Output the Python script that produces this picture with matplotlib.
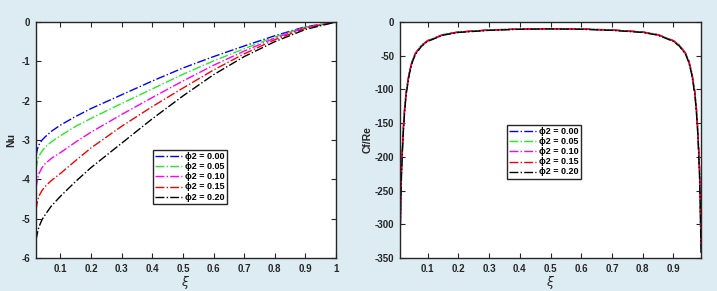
import matplotlib
matplotlib.use("Agg")
import matplotlib.pyplot as plt

# ---- left panel: Nu vs xi ----
xi_nu = [0.02, 0.025, 0.03, 0.04, 0.05, 0.07, 0.1, 0.15, 0.2, 0.3, 0.4, 0.5, 0.6, 0.7, 0.8, 0.9, 1.0]
nu_000 = [-3.40, -3.22, -3.12, -3.00, -2.92, -2.78, -2.62, -2.40, -2.20, -1.85, -1.50, -1.17, -0.88, -0.61, -0.35, -0.12, 0.0]
nu_005 = [-3.75, -3.52, -3.40, -3.28, -3.18, -3.05, -2.89, -2.65, -2.45, -2.07, -1.70, -1.33, -0.99, -0.68, -0.38, -0.13, 0.0]
nu_010 = [-4.23, -3.98, -3.85, -3.70, -3.60, -3.47, -3.32, -3.05, -2.80, -2.35, -1.92, -1.50, -1.10, -0.74, -0.41, -0.14, 0.0]
nu_015 = [-4.78, -4.55, -4.42, -4.28, -4.18, -4.03, -3.85, -3.52, -3.20, -2.65, -2.15, -1.68, -1.22, -0.81, -0.45, -0.16, 0.0]
nu_020 = [-5.54, -5.35, -5.20, -5.02, -4.90, -4.68, -4.43, -4.05, -3.70, -3.08, -2.46, -1.88, -1.34, -0.88, -0.50, -0.19, 0.0]

# ---- right panel: Cf/Re vs xi ----
xi_cf = [0.01, 0.0125, 0.015, 0.02, 0.025, 0.03, 0.04, 0.05, 0.06, 0.08, 0.1, 0.15, 0.2, 0.3, 0.4, 0.5,
         0.6, 0.7, 0.8, 0.85, 0.9, 0.92, 0.94, 0.95, 0.96, 0.97, 0.975, 0.98, 0.985, 0.9875, 0.99]
cf_000 = [-335, -262, -218, -165, -130, -105, -76, -58, -47, -35, -28, -19, -15, -12, -10.5, -10,
          -10.5, -12, -15, -19, -28, -35, -47, -58, -76, -105, -130, -165, -218, -262, -335]
cf_005 = [-328, -257, -214, -162, -127, -103, -74.5, -57, -46, -34.3, -27.4, -18.6, -14.7, -11.8, -10.3, -9.8,
          -10.3, -11.8, -14.7, -18.6, -27.4, -34.3, -46, -57, -74.5, -103, -127, -162, -214, -257, -328]
cf_010 = [-332, -259, -216, -163, -129, -104, -75.2, -57.4, -46.5, -34.7, -27.7, -18.8, -14.9, -11.9, -10.4, -9.9,
          -10.4, -11.9, -14.9, -18.8, -27.7, -34.7, -46.5, -57.4, -75.2, -104, -129, -163, -216, -259, -332]
cf_015 = [-333, -261, -217, -164, -129, -104, -75.6, -57.7, -46.8, -34.8, -27.9, -18.9, -14.9, -11.9, -10.4, -10,
          -10.4, -11.9, -14.9, -18.9, -27.9, -34.8, -46.8, -57.7, -75.6, -104, -129, -164, -217, -261, -333]
cf_020 = [-345, -270, -225, -170, -134, -108, -78.3, -59.7, -48.4, -36, -28.8, -19.6, -15.5, -12.4, -10.8, -10.3,
          -10.8, -12.4, -15.5, -19.6, -28.8, -36, -48.4, -59.7, -78.3, -108, -134, -170, -225, -270, -345]

phi_labels = ["0.00", "0.05", "0.10", "0.15", "0.20"]
colors = ["#0000ff", "#22ee22", "#ff00ff", "#ff0000", "#000000"]

plt.rcParams['font.family'] = ['Liberation Sans', 'DejaVu Sans']
plt.rcParams['axes.unicode_minus'] = False
edge = "#262626"

fig = plt.figure(figsize=(7.17, 2.91), dpi=100)
fig.patch.set_facecolor("#dcecf2")

ax1 = fig.add_axes([36/717, 33/291, 300/717, 236/291])
ax2 = fig.add_axes([400/717, 33/291, 301/717, 236/291])


def style(ax):
    for s in ax.spines.values():
        s.set_color(edge)
        s.set_linewidth(1.0)
    ax.tick_params(direction="in", top=True, right=True, length=3.5, width=0.8,
                   color=edge, labelcolor=edge, labelsize=7, pad=4)
    for lab in ax.get_xticklabels() + ax.get_yticklabels():
        lab.set_fontweight("bold")


for ys, c, lab in zip([nu_000, nu_005, nu_010, nu_015, nu_020], colors, phi_labels):
    ax1.plot(xi_nu, ys, linestyle="-.", color=c, lw=1.0, label="\u03d52 = " + lab)
ax1.set_xlim(0.02, 1)
ax1.set_ylim(-6, 0)
ax1.set_xticks([0.1, 0.2, 0.3, 0.4, 0.5, 0.6, 0.7, 0.8, 0.9, 1.0])
ax1.set_xticklabels(["0.1", "0.2", "0.3", "0.4", "0.5", "0.6", "0.7", "0.8", "0.9", "1"])
ax1.set_yticks([0, -1, -2, -3, -4, -5, -6])
ax1.set_yticklabels(["0", "-1", "-2", "-3", "-4", "-5", "-6"])
style(ax1)
ax1.set_xlabel(r"$\xi$", fontsize=9, color=edge, labelpad=0)
ax1.set_ylabel("Nu", fontsize=7.5, fontweight="bold", color=edge, labelpad=4)

for ys, c, lab in zip([cf_000, cf_005, cf_010, cf_015, cf_020], colors, phi_labels):
    ax2.plot(xi_cf, ys, linestyle="-.", color=c, lw=1.0, label="\u03d52 = " + lab)
ax2.set_xlim(0.01, 0.99)
ax2.set_ylim(-350, 0)
ax2.set_xticks([0.1, 0.2, 0.3, 0.4, 0.5, 0.6, 0.7, 0.8, 0.9])
ax2.set_yticks([0, -50, -100, -150, -200, -250, -300, -350])
style(ax2)
ax2.set_xlabel(r"$\xi$", fontsize=9, color=edge, labelpad=0)
ax2.set_ylabel("Cf/Re", fontsize=7.5, fontweight="bold", color=edge, labelpad=2)

leg_kw = dict(loc="upper left", frameon=True, fancybox=False,
              handlelength=3.0, handleheight=0.5, handletextpad=0.3, labelspacing=0.12,
              borderpad=0.25, borderaxespad=0,
              prop={"weight": "bold", "size": 6.5})
l1 = ax1.legend(bbox_to_anchor=(0.39, 0.458), **leg_kw)
l2 = ax2.legend(bbox_to_anchor=(0.355, 0.564), **leg_kw)
for l in (l1, l2):
    l.get_frame().set_edgecolor(edge)
    l.get_frame().set_linewidth(1.0)
    l.get_frame().set_alpha(1.0)

fig.savefig("out.png", dpi=100, facecolor=fig.get_facecolor())
